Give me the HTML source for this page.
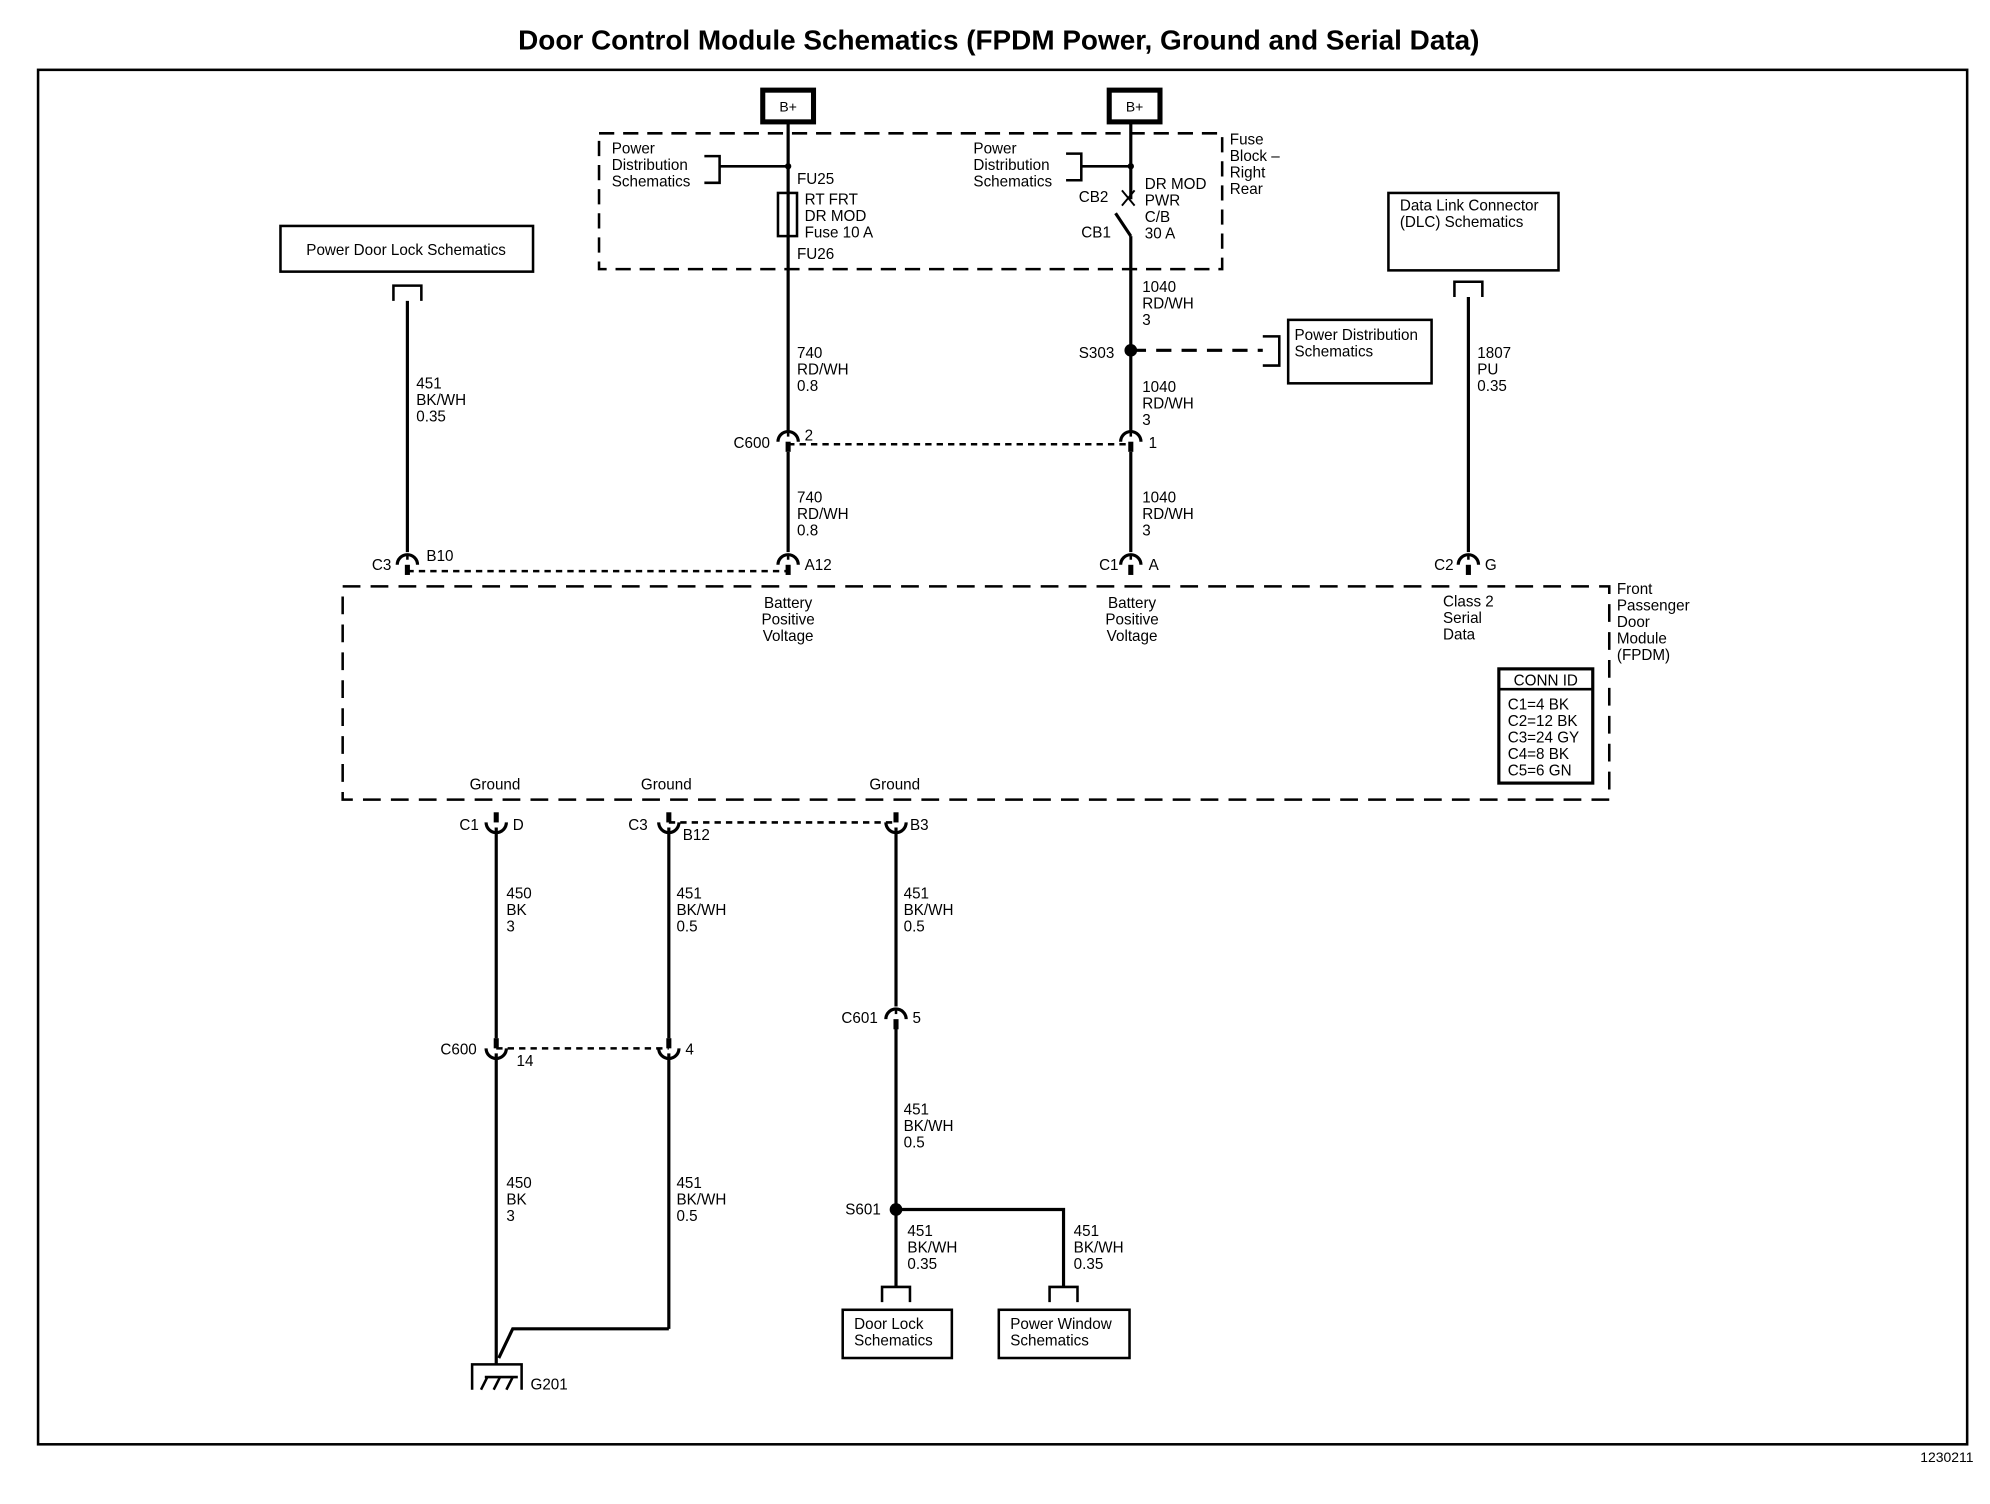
<!DOCTYPE html>
<html><head><meta charset="utf-8"><style>
html,body{margin:0;padding:0;background:#fff;}
svg{display:block}
text{font-family:"Liberation Sans",Arial,sans-serif;font-size:12px;fill:#000;}
.t{font-weight:bold;font-size:22px}
</style></head><body>
<svg width="1990" height="1504" viewBox="0 0 1568 1185" xmlns="http://www.w3.org/2000/svg">
<defs>
<g id="up"><path d="M-8,4 A8,8 0 0 1 8,4" fill="none" stroke="#000" stroke-width="2.5"/><line x1="0" y1="-4" x2="0" y2="0" stroke="#000" stroke-width="2"/><line x1="0" y1="4" x2="0" y2="12" stroke="#000" stroke-width="4"/></g>
<g id="dn"><path d="M-8,-4 A8,8 0 0 0 8,-4" fill="none" stroke="#000" stroke-width="2.5"/><line x1="0" y1="-12" x2="0" y2="-4" stroke="#000" stroke-width="4"/></g>
<g id="bk"><path d="M-11,12 V0 H11 V12" fill="none" stroke="#000" stroke-width="2"/></g>
</defs>
<text x="787" y="39" text-anchor="middle" class="t">Door Control Module Schematics (FPDM Power, Ground and Serial Data)</text>
<rect x="30" y="55" width="1520" height="1083" fill="none" stroke="#000" stroke-width="2"/>
<text x="1555" y="1152" text-anchor="end" style="font-size:11px">1230211</text>

<g fill="none" stroke="#000">
<rect x="601" y="71" width="40" height="25" stroke-width="4"/>
<rect x="874" y="71" width="40" height="25" stroke-width="4"/>
<rect x="472" y="105" width="491" height="107" stroke-width="2" stroke-dasharray="12,7"/>
<rect x="270" y="462" width="998" height="168" stroke-width="2" stroke-dasharray="14,8"/>
<rect x="221" y="178" width="199" height="36" stroke-width="2"/>
<rect x="1094" y="152" width="134" height="61" stroke-width="2"/>
<rect x="1015" y="252" width="113" height="50" stroke-width="2"/>
<rect x="1181" y="527" width="74" height="90" stroke-width="2.5"/>
<line x1="1181" y1="543" x2="1255" y2="543" stroke-width="2"/>
<rect x="664" y="1032" width="86" height="38" stroke-width="2"/>
<rect x="787" y="1032" width="103" height="38" stroke-width="2"/>
<g stroke-width="2.5">
<line x1="621" y1="96" x2="621" y2="340"/>
<line x1="621" y1="356" x2="621" y2="435"/>
<line x1="891" y1="96" x2="891" y2="157"/>
<line x1="884" y1="150" x2="894" y2="162" stroke-width="1.5"/><line x1="894" y1="150" x2="884" y2="162" stroke-width="1.5"/>
<line x1="879" y1="168" x2="891" y2="186"/>
<line x1="891" y1="186" x2="891" y2="340"/>
<line x1="891" y1="356" x2="891" y2="435"/>
<line x1="321" y1="237" x2="321" y2="435"/>
<line x1="1157" y1="234" x2="1157" y2="435"/>
<line x1="391" y1="652" x2="391" y2="818"/>
<line x1="391" y1="830" x2="391" y2="1075"/>
<line x1="527" y1="652" x2="527" y2="818"/>
<line x1="527" y1="830" x2="527" y2="1047"/>
<polyline points="527,1047 404,1047 393,1070"/>
<line x1="706" y1="652" x2="706" y2="793"/>
<line x1="706" y1="805" x2="706" y2="1014"/>
<polyline points="706,953 838,953 838,1014"/>
</g>
<rect x="613" y="152" width="15" height="34" stroke-width="2"/>
<path d="M555,123 H567 V144 H555" stroke-width="2"/><line x1="567" y1="131" x2="621" y2="131" stroke-width="2"/>
<path d="M840,121 H852 V142 H840" stroke-width="2"/><line x1="852" y1="131" x2="891" y2="131" stroke-width="2"/>
<path d="M995,265 H1008 V288 H995" stroke-width="2"/>
<line x1="891" y1="276" x2="995" y2="276" stroke-width="2.5" stroke-dasharray="12,8"/>
<line x1="621" y1="350" x2="891" y2="350" stroke-width="2" stroke-dasharray="5,4"/>
<line x1="321" y1="450" x2="621" y2="450" stroke-width="2" stroke-dasharray="5,4"/>
<line x1="527" y1="648" x2="706" y2="648" stroke-width="2" stroke-dasharray="5,4"/>
<line x1="391" y1="826" x2="527" y2="826" stroke-width="2" stroke-dasharray="5,4"/>
<path d="M372,1095 V1075 H411 V1095" stroke-width="2"/>
<line x1="382" y1="1085" x2="408" y2="1085" stroke-width="2"/>
<line x1="384" y1="1085" x2="379" y2="1095" stroke-width="2"/><line x1="394" y1="1085" x2="389" y2="1095" stroke-width="2"/><line x1="404" y1="1085" x2="399" y2="1095" stroke-width="2"/>
</g>
<circle cx="621" cy="131" r="2.5"/><circle cx="891" cy="131" r="2.5"/>
<circle cx="891" cy="276" r="5"/><circle cx="706" cy="953" r="5"/>
<use href="#bk" x="321" y="225"/><use href="#bk" x="1157" y="222"/>
<use href="#bk" x="706" y="1014"/><use href="#bk" x="838" y="1014"/>
<use href="#up" x="621" y="344"/><use href="#up" x="891" y="344"/>
<use href="#up" x="321" y="441"/><use href="#up" x="621" y="441"/><use href="#up" x="891" y="441"/><use href="#up" x="1157" y="441"/>
<use href="#dn" x="391" y="652"/><use href="#dn" x="527" y="652"/><use href="#dn" x="706" y="652"/>
<use href="#dn" x="391" y="830"/><use href="#dn" x="527" y="830"/>
<use href="#up" x="706" y="799"/>

<text x="621" y="88" text-anchor="middle" style="font-size:11px">B+</text>
<text x="894" y="88" text-anchor="middle" style="font-size:11px">B+</text>
<text x="482" y="121">Power</text><text x="482" y="134">Distribution</text><text x="482" y="147">Schematics</text>
<text x="628" y="145">FU25</text>
<text x="634" y="161">RT FRT</text><text x="634" y="174">DR MOD</text><text x="634" y="187">Fuse 10 A</text>
<text x="628" y="204">FU26</text>
<text x="767" y="121">Power</text><text x="767" y="134">Distribution</text><text x="767" y="147">Schematics</text>
<text x="902" y="149">DR MOD</text><text x="902" y="162">PWR</text><text x="902" y="175">C/B</text><text x="902" y="188">30 A</text>
<text x="850" y="159">CB2</text><text x="852" y="187">CB1</text>
<text x="969" y="114">Fuse</text><text x="969" y="127">Block –</text><text x="969" y="140">Right</text><text x="969" y="153">Rear</text>
<text x="320" y="201" text-anchor="middle">Power Door Lock Schematics</text>
<text x="1103" y="166">Data Link Connector</text><text x="1103" y="179">(DLC) Schematics</text>
<text x="1020" y="268">Power Distribution</text><text x="1020" y="281">Schematics</text>
<text x="328" y="306">451</text><text x="328" y="319">BK/WH</text><text x="328" y="332">0.35</text>
<text x="628" y="282">740</text><text x="628" y="295">RD/WH</text><text x="628" y="308">0.8</text>
<text x="628" y="396">740</text><text x="628" y="409">RD/WH</text><text x="628" y="422">0.8</text>
<text x="900" y="230">1040</text><text x="900" y="243">RD/WH</text><text x="900" y="256">3</text>
<text x="900" y="309">1040</text><text x="900" y="322">RD/WH</text><text x="900" y="335">3</text>
<text x="900" y="396">1040</text><text x="900" y="409">RD/WH</text><text x="900" y="422">3</text>
<text x="1164" y="282">1807</text><text x="1164" y="295">PU</text><text x="1164" y="308">0.35</text>
<text x="850" y="282">S303</text>
<text x="578" y="353">C600</text><text x="634" y="347">2</text><text x="905" y="353">1</text>
<text x="293" y="449">C3</text><text x="336" y="442">B10</text>
<text x="634" y="449">A12</text>
<text x="866" y="449">C1</text><text x="905" y="449">A</text>
<text x="1130" y="449">C2</text><text x="1170" y="449">G</text>
<text x="621" y="479" text-anchor="middle">Battery</text><text x="621" y="492" text-anchor="middle">Positive</text><text x="621" y="505" text-anchor="middle">Voltage</text>
<text x="892" y="479" text-anchor="middle">Battery</text><text x="892" y="492" text-anchor="middle">Positive</text><text x="892" y="505" text-anchor="middle">Voltage</text>
<text x="1137" y="478">Class 2</text><text x="1137" y="491">Serial</text><text x="1137" y="504">Data</text>
<text x="1274" y="468">Front</text><text x="1274" y="481">Passenger</text><text x="1274" y="494">Door</text><text x="1274" y="507">Module</text><text x="1274" y="520">(FPDM)</text>
<text x="1218" y="540" text-anchor="middle">CONN ID</text>
<text x="1188" y="559">C1=4 BK</text><text x="1188" y="572">C2=12 BK</text><text x="1188" y="585">C3=24 GY</text><text x="1188" y="598">C4=8 BK</text><text x="1188" y="611">C5=6 GN</text>
<text x="390" y="622" text-anchor="middle">Ground</text><text x="525" y="622" text-anchor="middle">Ground</text><text x="705" y="622" text-anchor="middle">Ground</text>
<text x="362" y="654">C1</text><text x="404" y="654">D</text>
<text x="495" y="654">C3</text><text x="538" y="662">B12</text><text x="717" y="654">B3</text>
<text x="399" y="708">450</text><text x="399" y="721">BK</text><text x="399" y="734">3</text>
<text x="533" y="708">451</text><text x="533" y="721">BK/WH</text><text x="533" y="734">0.5</text>
<text x="712" y="708">451</text><text x="712" y="721">BK/WH</text><text x="712" y="734">0.5</text>
<text x="347" y="831">C600</text><text x="407" y="840">14</text><text x="540" y="831">4</text>
<text x="663" y="806">C601</text><text x="719" y="806">5</text>
<text x="712" y="878">451</text><text x="712" y="891">BK/WH</text><text x="712" y="904">0.5</text>
<text x="399" y="936">450</text><text x="399" y="949">BK</text><text x="399" y="962">3</text>
<text x="533" y="936">451</text><text x="533" y="949">BK/WH</text><text x="533" y="962">0.5</text>
<text x="666" y="957">S601</text>
<text x="715" y="974">451</text><text x="715" y="987">BK/WH</text><text x="715" y="1000">0.35</text>
<text x="846" y="974">451</text><text x="846" y="987">BK/WH</text><text x="846" y="1000">0.35</text>
<text x="673" y="1047">Door Lock</text><text x="673" y="1060">Schematics</text>
<text x="796" y="1047">Power Window</text><text x="796" y="1060">Schematics</text>
<text x="418" y="1095">G201</text>
</svg>
</body></html>
